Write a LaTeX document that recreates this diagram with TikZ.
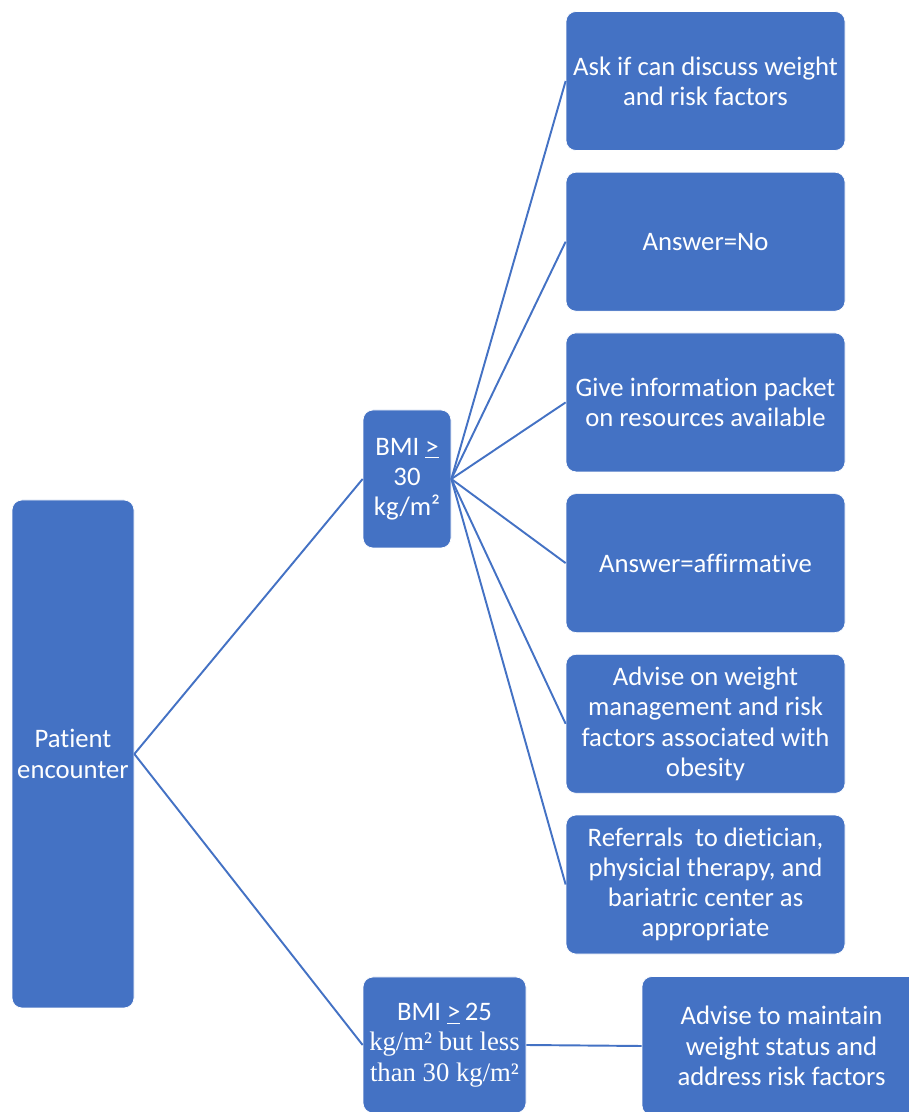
\documentclass[tikz,border=0pt]{standalone}
\usepackage{fontspec}
\setmainfont{Carlito}[Ligatures=NoCommon]
\newfontfamily\serifpart{Liberation Serif}
\usetikzlibrary{positioning}

\definecolor{officeblue}{HTML}{4472C4}
\newcommand{\atleast}{\underline{>}}

\begin{document}
\begin{tikzpicture}[node distance=0.42cm and 1cm,
    box/.style={fill=officeblue, draw=white, line width=0.4pt, rounded corners=0.2cm,
      text=white, align=center, inner sep=2pt,
      font=\fontsize{15.2}{17.2}\selectfont},
    rbox/.style={box, minimum width=5.58cm, minimum height=2.78cm},
    link/.style={draw=officeblue, line width=1.1pt}]

    \useasboundingbox (0,0) rectangle (18.18,22.24);

    % Set nodes
    \node[box, minimum width=2.44cm, minimum height=10.16cm] (patient) at (1.46,7.16) {Patient\\encounter};
    \node[box, minimum width=1.76cm, minimum height=2.76cm] (bmihigh) at (8.14,12.66) {BMI \atleast\\30\\kg/m²};
    \node[box, minimum width=3.26cm, minimum height=2.72cm] (bmimid) at (8.89,1.34)
      {BMI \atleast\,25\\{\serifpart kg/m² but less}\\{\serifpart than 30 kg/m²}};

    \node[rbox] (ask) at (14.11,20.62) {Ask if can discuss weight\\and risk factors};
    \node[rbox, below=of ask] (ansno) {Answer=No};
    \node[rbox, below=of ansno] (packet) {Give information packet\\on resources available};
    \node[rbox, below=of packet] (ansyes) {Answer=affirmative};
    \node[rbox, below=of ansyes] (advise) {Advise on weight\\management and risk\\factors associated with\\obesity};
    \node[rbox, below=of advise] (refer) {Referrals \ to dietician,\\physicial therapy, and\\bariatric center as\\appropriate};

    \node[rbox] (maintain) at (15.63,1.32) {Advise to maintain\\weight status and\\address risk factors};

    % Draw lines
    \draw[link] (patient.east) -- (bmihigh.west);
    \draw[link] (patient.east) -- (bmimid.west);
    \foreach \target in {ask,ansno,packet,ansyes,advise,refer}
      \draw[link] (bmihigh.east) -- (\target.west);
    \draw[link] (bmimid.east) -- (maintain.west);
  \end{tikzpicture}
\end{document}
